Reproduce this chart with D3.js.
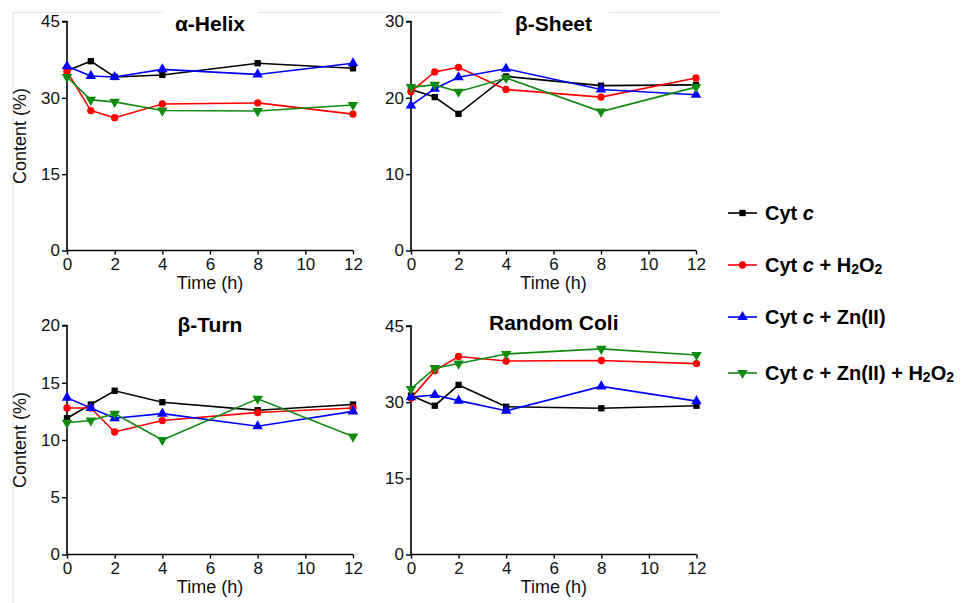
<!DOCTYPE html>
<html>
<head>
<meta charset="utf-8">
<script src="https://cdn.jsdelivr.net/npm/d3@7"></script>
<style>
  body { margin: 0; background: #fff; }
  svg { font-family: "Liberation Sans", Arial, sans-serif; }
</style>
</head>
<body>
<svg id="chart" width="963" height="603"></svg>
<script>
// time points (h)
const times = [0, 1, 2, 4, 8, 12];
const xTicks = [0, 2, 4, 6, 8, 10, 12];

const seriesNames = ['Cyt c', 'Cyt c + H2O2', 'Cyt c + Zn(II)', 'Cyt c + Zn(II) + H2O2'];
const seriesColors = ['#000000', '#ff0000', '#0000ff', '#118a11'];

// secondary structure content (%)
const helixCyt = [35.3, 37.2, 34.1, 34.5, 36.8, 35.8];
const helixH2O2 = [35.2, 27.5, 26.1, 28.8, 29.0, 26.8];
const helixZn = [36.2, 34.3, 34.1, 35.6, 34.6, 36.8];
const helixZnH2O2 = [34.1, 29.6, 29.2, 27.5, 27.4, 28.6];

const sheetCyt = [21.1, 20.1, 17.9, 22.8, 21.6, 21.7];
const sheetH2O2 = [20.8, 23.4, 24.0, 21.1, 20.1, 22.6];
const sheetZn = [19.0, 21.2, 22.7, 23.8, 21.1, 20.4];
const sheetZnH2O2 = [21.4, 21.7, 20.8, 22.6, 18.2, 21.4];

const turnCyt = [11.9, 13.1, 14.3, 13.3, 12.6, 13.1];
const turnH2O2 = [12.8, 12.8, 10.7, 11.7, 12.4, 12.8];
const turnZn = [13.7, 12.8, 11.9, 12.3, 11.2, 12.5];
const turnZnH2O2 = [11.5, 11.7, 12.3, 10.0, 13.6, 10.3];

const coilCyt = [31.3, 29.3, 33.4, 29.1, 28.8, 29.3];
const coilH2O2 = [30.8, 36.2, 39.0, 38.1, 38.2, 37.6];
const coilZn = [31.0, 31.4, 30.3, 28.3, 33.1, 30.2];
const coilZnH2O2 = [32.6, 36.7, 37.6, 39.5, 40.5, 39.3];

const panels = [
  { title: 'α-Helix', yMax: 45, yTicks: [0, 15, 30, 45], series: [helixCyt, helixH2O2, helixZn, helixZnH2O2],
    x0: 67, x1: 353, yTop: 21.5, yBot: 250.5, ylabel: true, titleY: 31 },
  { title: 'β-Sheet', yMax: 30, yTicks: [0, 10, 20, 30], series: [sheetCyt, sheetH2O2, sheetZn, sheetZnH2O2],
    x0: 411, x1: 696, yTop: 21.5, yBot: 250.5, ylabel: false, titleY: 31 },
  { title: 'β-Turn', yMax: 20, yTicks: [0, 5, 10, 15, 20], series: [turnCyt, turnH2O2, turnZn, turnZnH2O2],
    x0: 67, x1: 353, yTop: 325.5, yBot: 554.5, ylabel: true, titleY: 332 },
  { title: 'Random Coli', yMax: 45, yTicks: [0, 15, 30, 45], series: [coilCyt, coilH2O2, coilZn, coilZnH2O2],
    x0: 411, x1: 696.5, yTop: 326, yBot: 554.5, ylabel: false, titleY: 330 }
];

const svg = d3.select('#chart');

// faint frame from the source image
svg.append('line').attr('x1', 13).attr('x2', 13).attr('y1', 12.5).attr('y2', 603)
  .attr('stroke', '#e2e2e2').attr('stroke-width', 1);
[[13, 163], [258, 502], [609, 720]].forEach(s => {
  svg.append('line').attr('x1', s[0]).attr('x2', s[1]).attr('y1', 12.5).attr('y2', 12.5)
    .attr('stroke', '#e2e2e2').attr('stroke-width', 1);
});

const symbolTypes = [d3.symbolSquare, d3.symbolCircle, d3.symbolTriangle, d3.symbolTriangle];
const symbolSizes = [40, 42, 48, 48];

function drawMarker(g, i, x, y) {
  g.append('path')
    .attr('d', d3.symbol().type(symbolTypes[i]).size(symbolSizes[i])())
    .attr('transform', `translate(${x},${y})` + (i === 3 ? ' rotate(180)' : ''))
    .attr('fill', seriesColors[i]);
}

panels.forEach(p => {
  const x = d3.scaleLinear().domain([0, 12]).range([p.x0, p.x1]);
  const y = d3.scaleLinear().domain([0, p.yMax]).range([p.yBot, p.yTop]);

  const yAxis = svg.append('g')
    .attr('transform', `translate(${p.x0},0)`)
    .call(d3.axisLeft(y).tickValues(p.yTicks).tickSize(5).tickPadding(2));
  const xAxis = svg.append('g')
    .attr('transform', `translate(0,${p.yBot})`)
    .call(d3.axisBottom(x).tickValues(xTicks).tickSize(4).tickPadding(3));

  [yAxis, xAxis].forEach(a => {
    a.select('.domain').attr('stroke', '#000').attr('stroke-width', 1.6);
    a.selectAll('.tick line').attr('stroke', '#000').attr('stroke-width', 1.4);
    a.selectAll('.tick text').attr('fill', '#111').style('font-size', '17px')
      .style('font-family', '"Liberation Sans", Arial, sans-serif');
  });
  yAxis.select('.domain').attr('d', `M-5,${p.yTop}H0V${p.yBot}`);
  xAxis.select('.domain').attr('d', `M${p.x0},0H${p.x1}`);

  svg.append('text')
    .attr('x', (p.x0 + p.x1) / 2).attr('y', p.titleY)
    .attr('text-anchor', 'middle')
    .style('font-size', '21px').style('font-weight', 'bold')
    .text(p.title);

  svg.append('text')
    .attr('x', (p.x0 + p.x1) / 2).attr('y', p.yBot + 38)
    .attr('text-anchor', 'middle')
    .style('font-size', '18px').attr('fill', '#111')
    .text('Time (h)');

  if (p.ylabel) {
    svg.append('text')
      .attr('transform', `translate(26,${(p.yTop + p.yBot) / 2}) rotate(-90)`)
      .attr('text-anchor', 'middle')
      .style('font-size', '18px').attr('fill', '#111')
      .text('Content (%)');
  }

  const line = d3.line().x((d, j) => x(times[j])).y(d => y(d));
  const g = svg.append('g');
  p.series.forEach((vals, i) => {
    g.append('path')
      .attr('d', line(vals))
      .attr('fill', 'none')
      .attr('stroke', seriesColors[i])
      .attr('stroke-width', 1.6);
  });
  p.series.forEach((vals, i) => {
    vals.forEach((v, j) => drawMarker(g, i, x(times[j]), y(v)));
  });
});

// legend
const legendY = [213, 265, 317, 373];
const legend = svg.append('g').style('font-size', '20px').style('font-weight', 'bold');
seriesNames.forEach((name, i) => {
  const ly = legendY[i];
  legend.append('line').attr('x1', 728).attr('x2', 757).attr('y1', ly).attr('y2', ly)
    .attr('stroke', seriesColors[i]).attr('stroke-width', 1.6);
  drawMarker(legend, i, 742.5, ly);
  const t = legend.append('text').attr('x', 765).attr('y', ly + 7);
  t.append('tspan').text('Cyt ');
  t.append('tspan').style('font-style', 'italic').text('c');
  const rest = name.slice(5);
  // split out H2O2 for subscripts
  const parts = rest.split('H2O2');
  t.append('tspan').text(parts[0]);
  if (parts.length > 1) {
    t.append('tspan').text('H');
    t.append('tspan').attr('dy', 2).style('font-size', '14px').text('2');
    t.append('tspan').attr('dy', -2).text('O');
    t.append('tspan').attr('dy', 2).style('font-size', '14px').text('2');
  }
});
</script>
</body>
</html>
